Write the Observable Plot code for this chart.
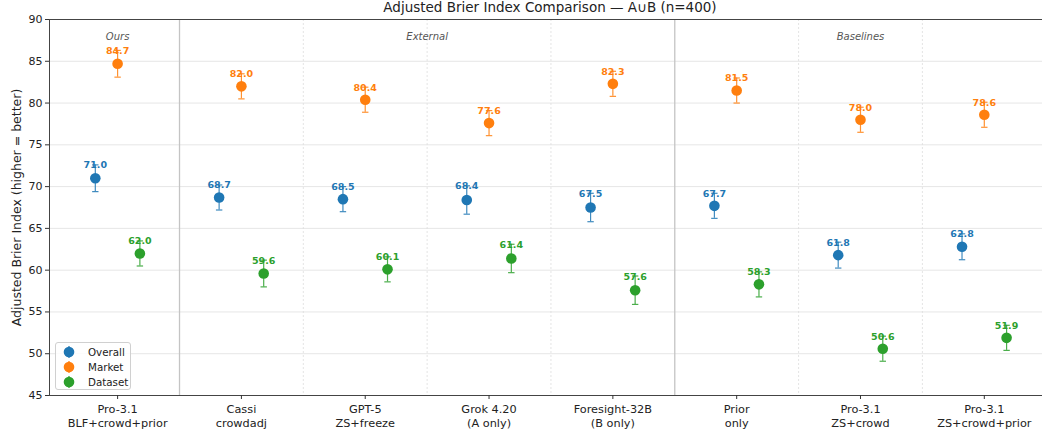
<!DOCTYPE html>
<html><head><meta charset="utf-8">
<script src="https://cdn.jsdelivr.net/npm/d3@7"></script>
<script src="https://cdn.jsdelivr.net/npm/@observablehq/plot@0.6"></script>
<style>
body{margin:0;background:#fff;font-family:"DejaVu Sans",sans-serif;}
#wrap{position:relative;width:1042px;height:431px;overflow:hidden;}
#title{position:absolute;left:0;width:1100px;top:-1px;text-align:center;font-size:13.5px;color:#222;white-space:nowrap;}
#legend{position:absolute;left:55px;top:342px;width:76px;height:48px;border:1px solid #d0d0d0;border-radius:3px;background:rgba(255,255,255,0.85);font-size:10.3px;color:#222;box-sizing:border-box;padding-top:1px;}
.row{display:flex;align-items:center;height:15px;}
.row svg{margin-left:6px;margin-right:12px;}
</style></head>
<body><div id="wrap"><div id="chart"></div><div id="title"></div><div id="legend"></div></div>
<script>
const title = "Adjusted Brier Index Comparison — A∪B (n=400)";
const yLabel = "Adjusted Brier Index (higher = better)";
const categories = ["Pro-3.1\nBLF+crowd+prior","Cassi\ncrowdadj","GPT-5\nZS+freeze","Grok 4.20\n(A only)","Foresight-32B\n(B only)","Prior\nonly","Pro-3.1\nZS+crowd","Pro-3.1\nZS+crowd+prior"];
const seriesNames = ["Overall","Market","Dataset"];
const overall = [71.0, 68.7, 68.5, 68.4, 67.5, 67.7, 61.8, 62.8];
const market  = [84.7, 82.0, 80.4, 77.6, 82.3, 81.5, 78.0, 78.6];
const dataset = [62.0, 59.6, 60.1, 61.4, 57.6, 58.3, 50.6, 51.9];
const overallErr = [1.6, 1.5, 1.5, 1.7, 1.7, 1.5, 1.55, 1.55];
const marketErr  = [1.6, 1.5, 1.5, 1.5, 1.5, 1.5, 1.5, 1.5];
const datasetErr = [1.5, 1.6, 1.5, 1.7, 1.7, 1.5, 1.5, 1.5];
const groups = [{name:"Ours", from:0, to:0},{name:"External", from:1, to:4},{name:"Baselines", from:5, to:7}];
const colors = ["#1f77b4","#ff7f0e","#2ca02c"];
const yTicks = [45,50,55,60,65,70,75,80,85,90];

const offsets = [-0.18, 0, 0.18];
const vals = [overall, market, dataset];
const errs = [overallErr, marketErr, datasetErr];
const rows = [];
seriesNames.forEach((s, si) => categories.forEach((c, i) => {
  rows.push({series: s, si, i, x: i + offsets[si], v: vals[si][i], lo: vals[si][i] - errs[si][i], hi: vals[si][i] + errs[si][i], color: colors[si]});
}));
const solidSeps = [];
const dashSeps = [];
for (let k = 0; k < categories.length - 1; k++) {
  const b = k + 0.5;
  if (groups.some(g => g.from === k + 1)) solidSeps.push(b); else dashSeps.push(b);
}
const capSymbol = {draw(ctx){ ctx.moveTo(-3.2,0); ctx.lineTo(3.2,0); }};

document.getElementById("title").textContent = title;

const chart = Plot.plot({
  width: 1042, height: 431,
  marginLeft: 49, marginRight: 0, marginTop: 19, marginBottom: 36,
  style: {fontFamily: "DejaVu Sans, sans-serif", background: "#fff", overflow: "visible"},
  x: {type: "linear", domain: [-0.55, 7.47]},
  y: {domain: [45, 90]},
  marks: [
    Plot.ruleY(yTicks.slice(1, -1), {stroke: "#e6e6e6", strokeWidth: 1}),
    Plot.ruleX(dashSeps, {stroke: "#dddddd", strokeWidth: 0.8, strokeDasharray: "2,2"}),
    Plot.ruleX(solidSeps, {stroke: "#c4c4c4", strokeWidth: 1.3}),
    Plot.ruleX([-0.55], {stroke: "#444", strokeWidth: 1}),
    Plot.ruleY([45, 90], {stroke: "#444", strokeWidth: 1}),
    Plot.axisY({ticks: yTicks, tickSize: 4, tickPadding: 3, fontSize: 11, label: null, stroke: "#333", color: "#222"}),
    Plot.text([yLabel], {frameAnchor: "left", textAnchor: "middle", rotate: -90, dx: -33, fontSize: 12.5, fill: "#222"}),
    Plot.axisX({ticks: d3.range(categories.length), tickFormat: i => categories[i], tickSize: 4, tickPadding: 3, fontSize: 11.3, lineHeight: 1.25, label: null, stroke: "#333", color: "#222"}),
    Plot.text(groups, {x: g => (g.from + g.to) / 2, frameAnchor: "top", dy: 13, text: "name", fontStyle: "italic", fontSize: 10, fill: "#555"}),
    Plot.ruleX(rows, {x: "x", y1: "lo", y2: "hi", stroke: "color", strokeWidth: 1.2, strokeOpacity: 0.85}),
    Plot.dot(rows, {x: "x", y: "lo", symbol: capSymbol, stroke: "color", fill: "none", strokeWidth: 1.2, strokeOpacity: 0.85}),
    Plot.dot(rows, {x: "x", y: "hi", symbol: capSymbol, stroke: "color", fill: "none", strokeWidth: 1.2, strokeOpacity: 0.85}),
    Plot.dot(rows, {x: "x", y: "v", r: 5.3, fill: "color", stroke: "none"}),
    Plot.text(rows, {x: "x", y: "hi", text: d => d.v.toFixed(1), fill: "color", fontWeight: "bold", fontSize: 9.5, lineAnchor: "bottom", dy: 3.5})
  ]
});
document.getElementById("chart").appendChild(chart);

const legend = document.getElementById("legend");
seriesNames.forEach((s, si) => {
  const row = document.createElement("div");
  row.className = "row";
  row.innerHTML = `<svg width="14" height="14"><line x1="7" x2="7" y1="1" y2="13" stroke="${colors[si]}" stroke-width="1.2"/><circle cx="7" cy="7" r="5.3" fill="${colors[si]}"/></svg><span>${s}</span>`;
  legend.appendChild(row);
});
</script></body></html>
